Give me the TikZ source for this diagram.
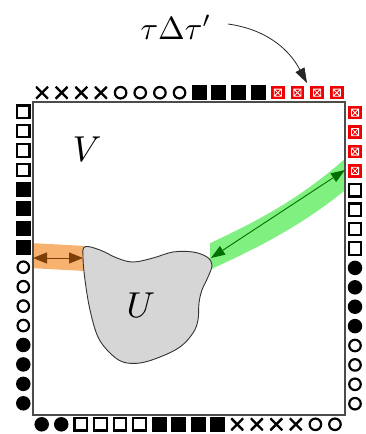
\documentclass[tikz,border=0pt]{standalone}
\usetikzlibrary{arrows.meta}
\definecolor{bandorange}{RGB}{246,178,110}
\definecolor{arrbrown}{RGB}{125,62,8}
\definecolor{bandgreen}{RGB}{128,240,128}
\definecolor{arrgreen}{RGB}{0,110,0}
\definecolor{boxred}{RGB}{240,0,0}
\tikzset{
  mark base/.style={inner sep=0pt, outer sep=0pt},
  xx/.style={mark base, minimum size=13pt,
    path picture={\draw[line width=2.4pt, shift={(path picture bounding box.center)}]
      (-6,-6) -- (6,6) (-6,6) -- (6,-6);}},
  ci/.style={mark base, circle, draw, line width=2.2pt, minimum size=11.5pt},
  dt/.style={mark base, circle, fill, minimum size=14.5pt},
  os/.style={mark base, rectangle, draw, line width=2.2pt, minimum size=12.5pt},
  bs/.style={mark base, rectangle, fill, minimum size=15pt},
  rs/.style={mark base, rectangle, fill=boxred, minimum size=13.5pt,
    path picture={\draw[white, line width=0.8pt, shift={(path picture bounding box.center)}]
      (-3.6,-3.6) rectangle (3.6,3.6) (-3.6,-3.6) -- (3.6,3.6) (-3.6,3.6) -- (3.6,-3.6);}},
  frame/.style={draw=black!70, line width=1.1pt},
  blob/.style={draw=black!80, line width=0.9pt, fill=black!16},
  label/.style={inner sep=0pt},
}
\begin{document}
\begin{tikzpicture}[x=1pt, y=-1pt]
\useasboundingbox (0,0) rectangle (366,434);

% translucent bands
\begin{scope}
  \clip (33,220) rectangle (84,290);
  \draw[bandorange, line width=25pt] (20,255) -- (95,259);
\end{scope}
\begin{scope}
  \clip (210,140) rectangle (345,290);
  \draw[bandgreen, line width=24pt] (198,262) .. controls (250,238) and (300,215) .. (355,166);
\end{scope}

% the region V
\draw[frame] (33,102) rectangle (345,415);
\node[label, scale=3.6] (V) at (87,149) {$V$};

% the set U
\draw[blob] plot[smooth cycle, tension=0.6] coordinates {
  (85,246.7) (100,250) (117,258) (133,262) (153,258) (173,252) (193,252)
  (207,257) (212,265) (208,277) (202,290) (199,303) (198,320) (193,333)
  (180,347) (160,357) (140,363) (123,362) (110,353) (98,337) (90,310)
  (85,280) (83,257)};
\node[label, scale=3.6] (U) at (141,305) {$U$};

% distance arrows
\coordinate (oL) at (33,258);
\coordinate (oR) at (83,258);
\coordinate (gL) at (211,258);
\coordinate (gR) at (345,170);
\draw[arrbrown, line width=1pt,
  {Triangle[length=14pt,width=11pt]}-{Triangle[length=14pt,width=11pt]}] (oL) -- (oR);
\draw[arrgreen, line width=0.9pt,
  {Triangle[length=14pt,width=10pt]}-{Triangle[length=14pt,width=10pt]}] (gL) -- (gR);

% boundary marks: top row
\foreach \s [count=\i from 0] in {xx,xx,xx,xx,ci,ci,ci,ci,bs,bs,bs,bs,rs,rs,rs,rs} {
  \pgfmathsetmacro\px{42+19.65*\i}
  \edef\tmp{\noexpand\node[\s] (t\i) at (\px,92.7) {};}\tmp
}
% bottom row
\foreach \s [count=\i from 0] in {dt,dt,os,os,os,os,bs,bs,bs,bs,xx,xx,xx,xx,ci,ci} {
  \pgfmathsetmacro\px{41.7+19.55*\i}
  \edef\tmp{\noexpand\node[\s] (b\i) at (\px,424.3) {};}\tmp
}
% left column
\foreach \s [count=\i from 0] in {os,os,os,os,bs,bs,bs,bs,ci,ci,ci,ci,dt,dt,dt,dt} {
  \pgfmathsetmacro\py{111.7+19.44*\i}
  \edef\tmp{\noexpand\node[\s] (l\i) at (23.3,\py) {};}\tmp
}
% right column
\foreach \s [count=\i from 0] in {rs,rs,rs,rs,os,os,os,os,dt,dt,dt,dt,ci,ci,ci,ci} {
  \pgfmathsetmacro\py{112.7+19.4*\i}
  \edef\tmp{\noexpand\node[\s] (r\i) at (355,\py) {};}\tmp
}

% symmetric difference label
\node[label, scale=3.2] (tau) at (176,27) {$\tau\Delta\tau'$};
\coordinate (tip) at (307,83);
\draw[black!85, line width=0.8pt, -{Triangle[length=15pt,width=10pt]}]
  (228,24) to[out=-8, in=118] (tip);
\end{tikzpicture}
\end{document}
